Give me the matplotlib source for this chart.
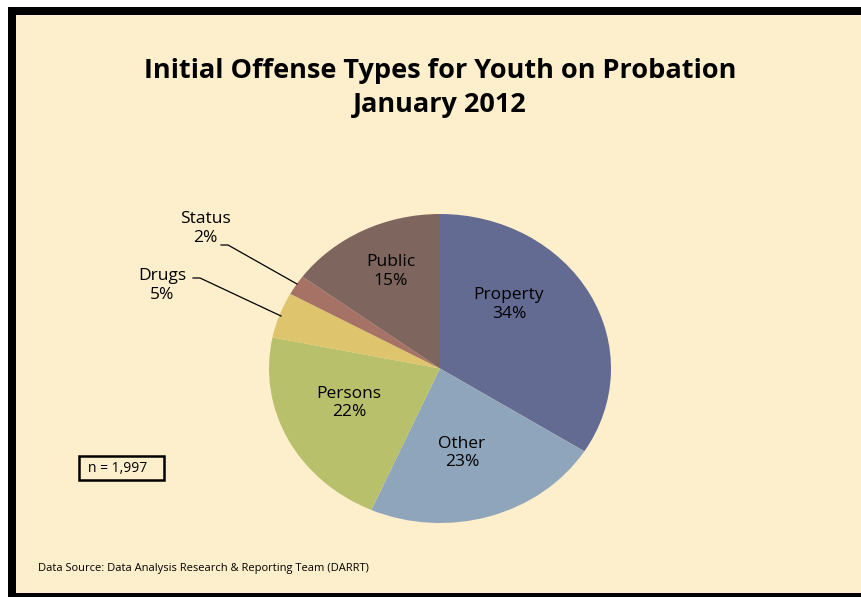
import matplotlib
import matplotlib.pyplot as plt
from matplotlib.patches import Rectangle

matplotlib.use("Agg")

categories = ["Property", "Other", "Persons", "Drugs", "Status", "Public"]
counts = [679, 451, 432, 96, 42, 297]
colors = ["#646B93", "#8FA5BB", "#B9C06C", "#DEC46C", "#A67265", "#7E655D"]
total = sum(counts)

bg = "#FEEFCC"
plt.rcParams["font.family"] = ["Open Sans", "DejaVu Sans"]

W, H = 861, 597
fig = plt.figure(figsize=(W / 100, H / 100), dpi=100)
fig.patch.set_facecolor("white")

# cream panel with thick black frame on left and top
fig.patches.append(Rectangle((8 / W, 0), 1, 1 - 7 / H, transform=fig.transFigure,
                             facecolor="black", edgecolor="none", zorder=-10))
fig.patches.append(Rectangle((16 / W, 4 / H), 1, 1 - 19 / H, transform=fig.transFigure,
                             facecolor=bg, edgecolor="none", zorder=-9))

# pie axes (slightly elliptical, like the original)
cx, cy, rx, ry = 440, 368.5, 171, 154.5
ax = fig.add_axes([(cx - rx) / W, (H - cy - ry) / H, 2 * rx / W, 2 * ry / H])
ax.set_zorder(1)
ax.set_facecolor("none")
wedges, _ = ax.pie(counts, colors=colors, startangle=90, counterclock=False,
                   radius=1, wedgeprops=dict(linewidth=0))
ax.set_xlim(-1, 1)
ax.set_ylim(-1, 1)
ax.set_aspect("auto")
ax.axis("off")


def to_data(px, py):
    return (px - cx) / rx, (cy - py) / ry


pct = [round(100 * c / total) for c in counts]
label_pos = {
    "Property": (509, 305),
    "Other": (462, 453),
    "Persons": (349, 403),
    "Public": (391, 272),
    "Status": (205, 229),
    "Drugs": (162, 286),
}
for name, p in zip(categories, pct):
    x, y = to_data(*label_pos[name])
    ax.text(x, y, "{}\n{}%".format(name, p), ha="center", va="center",
            fontsize=12.5, linespacing=1.25, color="black", clip_on=False)

# leader lines for the small slices
leaders = {
    "Status": [(221, 245), (228, 245), (297, 284)],
    "Drugs": [(193, 278), (200, 278), (281, 316)],
}
for name, pts in leaders.items():
    xs, ys = zip(*[to_data(px, py) for px, py in pts])
    ax.plot(xs, ys, color="black", linewidth=0.9, clip_on=False)

fig.text(440 / W, 1 - 71 / H, "Initial Offense Types for Youth on Probation",
         ha="center", va="center", fontsize=19.5, fontweight="bold")
fig.text(440 / W, 1 - 105 / H, "January 2012",
         ha="center", va="center", fontsize=19.5, fontweight="bold")

fig.patches.append(Rectangle((79 / W, 1 - 480 / H), 85 / W, 24 / H, transform=fig.transFigure,
                             facecolor=bg, edgecolor="black", linewidth=1.8, zorder=2))
fig.text(88 / W, 1 - 468 / H, "n = {:,}".format(total), ha="left", va="center",
         fontsize=10, zorder=3)

fig.text(38 / W, 1 - 569 / H, "Data Source: Data Analysis Research & Reporting Team (DARRT)",
         ha="left", va="center", fontsize=8)

plt.savefig("out.png", dpi=100, facecolor=fig.get_facecolor())
